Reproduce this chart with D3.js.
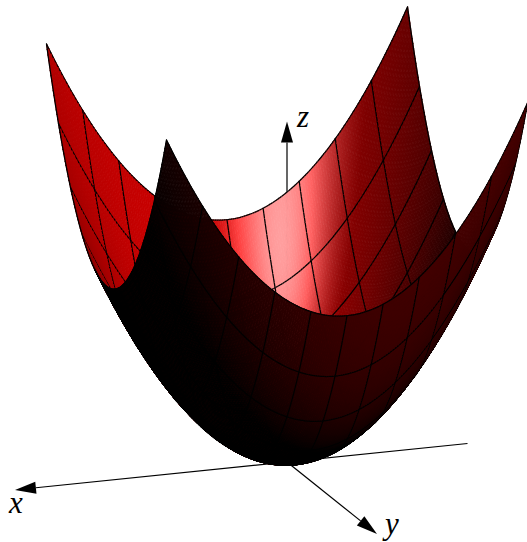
<!DOCTYPE html>
<html>
<head>
<meta charset="utf-8">
<script src="https://cdn.jsdelivr.net/npm/d3@7"></script>
<style>
html,body{margin:0;padding:0;background:#fff;}
svg{display:block;}
</style>
</head>
<body>
<script>
// Spacing of the fine grid along both horizontal axes; a mesh line every 16 steps
const gridStep = .0125;
const meshEvery = 16;
// Height of the bowl wall read along one horizontal axis, for |u| = k * gridStep
const bowlProfile = [0,.00016,.00063,.00141,.0025,.00391,.00563,.00766,.01,.01266,.01563,.01891,.0225,.02641,.03063,.03516,.04,.04516,.05063,.05641,.0625,.06891,.07563,.08266,.09,.09766,.10563,.11391,.1225,.13141,.14063,.15016,.16,.17016,.18063,.19141,.2025,.21391,.22563,.23766,.25,.26266,.27563,.28891,.3025,.31641,.33063,.34516,.36,.37516,.39063,.40641,.4225,.43891,.45563,.47266,.49,.50766,.52563,.54391,.5625,.58141,.60063,.62016,.64,.66016,.68063,.70141,.7225,.74391,.76563,.78766,.81,.83266,.85563,.87891,.9025,.92641,.95063,.97516,1];
const axisNames = ["x","y","z"];
const axisEnds = [1.507,1.5,1.753];
const xAxisStart = -1;

const W = 527, H = 542;
const svg = d3.select("body").append("svg").attr("width",W).attr("height",H);

// Oblique parallel projection built from linear scales
const xToH = d3.scaleLinear().domain([0,1]).range([0,-180.5]);
const xToV = d3.scaleLinear().domain([0,1]).range([0,18.5]);
const yToH = d3.scaleLinear().domain([0,1]).range([0,60]);
const yToV = d3.scaleLinear().domain([0,1]).range([0,48]);
const zToV = d3.scaleLinear().domain([0,1]).range([0,-194.25]);
const O = [287,462];
const proj = (x,y,z) => [O[0]+xToH(x)+yToH(y), O[1]+xToV(x)+yToV(y)+zToV(z)];
const view = [1,3.008,.8386];
const depth = (x,y,z) => x*view[0]+y*view[1]+z*view[2];

const n = bowlProfile.length-1;
const coord = i => i*gridStep;
const height = (i,j) => bowlProfile[Math.abs(i)]+bowlProfile[Math.abs(j)];
const slope = i => { // local wall slope from neighbouring table rows
  const a=Math.max(i-1,-n), b=Math.min(i+1,n);
  return (bowlProfile[Math.abs(b)]-bowlProfile[Math.abs(a)])/(coord(b)-coord(a));
};

// Lighting
const norm = v => { const l=Math.hypot(...v); return v.map(c=>c/l); };
const dot = (a,b) => a[0]*b[0]+a[1]*b[1]+a[2]*b[2];
const L = norm([-.27,.74,.62]);
const Hv = norm([.245,.85,.47]);
const Vv = norm(view);
function shade(sx,sy){
  let N = norm([-sx,-sy,1]);
  const inner = dot(N,Vv)>=0;
  if (!inner) N = N.map(c=>-c);
  const d = inner ? Math.max(0,dot(N,L))*.80 : Math.max(0,dot(N,L)+.04)*.52;
  const s = Math.max(0,Math.pow(Math.max(0,dot(N,Hv)),36)*.68-.06);
  const r = Math.min(1,d+s), g = Math.min(1,s);
  return d3.rgb(r*255,g*255,g*255).formatHex();
}

// Build scene: quads and mesh segments in one depth-sorted list
const quadDepth = (i,j) => {
  const a=[[i,j],[i+1,j],[i+1,j+1],[i,j+1]];
  return depth(coord(i+.5),coord(j+.5),d3.mean(a,([p,q])=>height(p,q)));
};
const scene = [];
for (let i=-n;i<n;i++) for (let j=-n;j<n;j++){
  const cs=[[i,j],[i+1,j],[i+1,j+1],[i,j+1]];
  const pts=cs.map(([a,b])=>proj(coord(a),coord(b),height(a,b)));
  const col=shade((slope(i)+slope(i+1))/2,(slope(j)+slope(j+1))/2);
  scene.push({t:0,d:quadDepth(i,j),pts,col});
}
const isMesh = i => ((i+n)%meshEvery)===0;
for (let i=-n;i<=n;i++) if (isMesh(i)) for (let j=-n;j<n;j++){
  const ds=[]; if(i<n) ds.push(quadDepth(i,j)); if(i>-n) ds.push(quadDepth(i-1,j));
  scene.push({t:1,d:d3.max(ds),pts:[proj(coord(i),coord(j),height(i,j)),proj(coord(i),coord(j+1),height(i,j+1))]});
  const ds2=[]; if(i<n) ds2.push(quadDepth(j,i)); if(i>-n) ds2.push(quadDepth(j,i-1));
  scene.push({t:1,d:d3.max(ds2),pts:[proj(coord(j),coord(i),height(j,i)),proj(coord(j+1),coord(i),height(j+1,i))]});
}
scene.sort((a,b)=>a.d-b.d||a.t-b.t);

// Axes (z axis sits behind the surface)
function arrow(g,from,to,len,wid){
  const dx=to[0]-from[0],dy=to[1]-from[1],l=Math.hypot(dx,dy),ux=dx/l,uy=dy/l;
  const b=[to[0]-ux*len,to[1]-uy*len];
  g.append("line").attr("x1",from[0]).attr("y1",from[1]).attr("x2",b[0]).attr("y2",b[1])
    .attr("stroke","#000").attr("stroke-width",1.2);
  g.append("polygon").attr("fill","#000").attr("points",[
    to,[b[0]-uy*wid/2,b[1]+ux*wid/2],[b[0]+uy*wid/2,b[1]-ux*wid/2]].map(p=>p.join(",")).join(" "));
}
const axesG = svg.append("g");
arrow(axesG,proj(xAxisStart,0,0),proj(axisEnds[0],0,0),21,12);
arrow(axesG,proj(0,0,0),proj(0,axisEnds[1],0),21,12);
arrow(axesG,proj(0,0,0),proj(0,0,axisEnds[2]),21,12);

// Surface
const surf = svg.append("g").attr("stroke-linejoin","round");
const line = d3.line();
surf.selectAll("path").data(scene).join("path")
  .attr("d",d=> d.t? line(d.pts) : line(d.pts)+"Z")
  .attr("fill",d=>d.t?"none":d.col)
  .attr("stroke",d=>d.t?"#000":d.col)
  .attr("stroke-width",d=>d.t?1.25:.8)
  .attr("stroke-linecap","round");

// Axis letters
const labelPos = [[16,513],[392,534],[303,127]];
svg.selectAll("text").data(axisNames).join("text")
  .attr("x",(d,i)=>labelPos[i][0]).attr("y",(d,i)=>labelPos[i][1])
  .attr("text-anchor","middle")
  .attr("font-family","'Liberation Serif',serif").attr("font-style","italic")
  .attr("font-size",31).attr("fill","#000")
  .text(d=>d);
</script>
</body>
</html>
